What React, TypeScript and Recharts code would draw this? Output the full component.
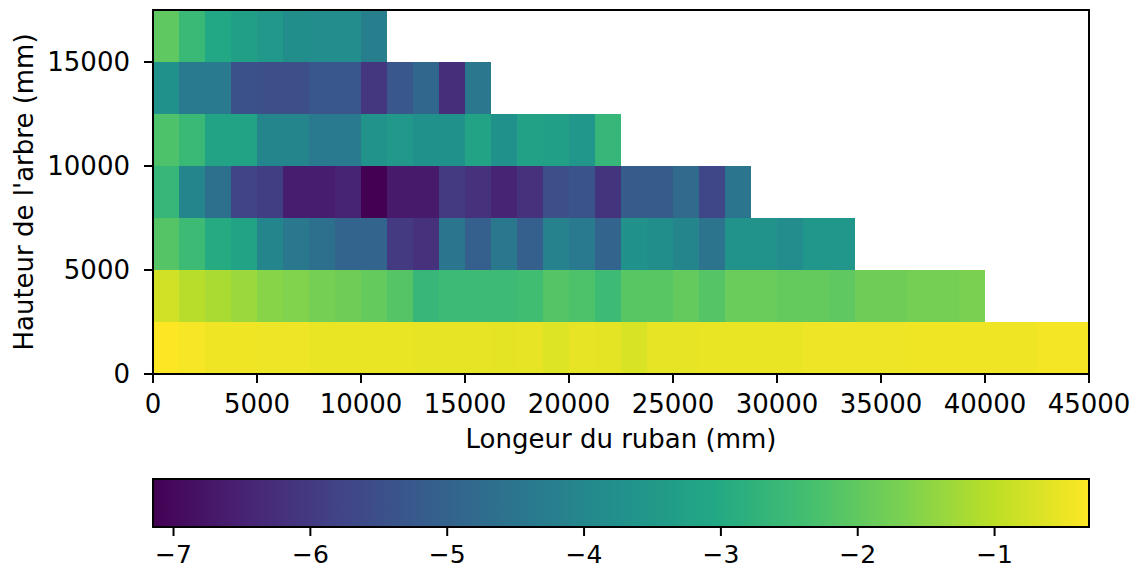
import React from 'react';
import { ComposedChart, XAxis, YAxis, ReferenceArea, Scatter, Label } from 'recharts';

const cellWidth = 1250; // width of one cell along the ribbon (mm)
const rowHeight = 2500; // height of one band of the tree (mm)
const rowBottoms = [0, 2500, 5000, 7500, 10000, 12500, 15000];

const row0 = [-0.31, -0.38, -0.45, -0.45, -0.48, -0.48, -0.52, -0.52, -0.52, -0.52, -0.55, -0.55, -0.55, -0.58, -0.55, -0.65, -0.55, -0.58, -0.69, -0.55, -0.55, -0.52, -0.52, -0.52, -0.52, -0.48, -0.48, -0.48, -0.48, -0.45, -0.45, -0.45, -0.45, -0.45, -0.41, -0.41];
const row1 = [-0.79, -1.06, -1.2, -1.34, -1.54, -1.61, -1.75, -1.82, -1.95, -2.16, -2.64, -2.5, -2.5, -2.5, -2.43, -2.16, -2.23, -2.5, -2.09, -2.09, -1.95, -2.16, -1.88, -1.88, -1.95, -1.95, -2.02, -1.82, -1.82, -1.75, -1.75, -1.68];
const row2 = [-2.16, -2.5, -2.98, -3.18, -4.07, -4.41, -4.62, -4.96, -4.96, -5.99, -6.19, -4.48, -5.1, -4.41, -5.1, -4.14, -4.35, -4.96, -3.73, -3.8, -4.07, -4.55, -3.66, -3.66, -3.87, -3.59, -3.59];
const row3 = [-2.64, -4.07, -4.62, -5.78, -5.92, -6.6, -6.6, -6.47, -7.15, -6.67, -6.67, -5.99, -6.19, -6.47, -6.19, -5.51, -5.37, -6.12, -5.17, -5.17, -4.76, -5.71, -4.48];
const row4 = [-2.23, -2.57, -3.18, -3.18, -4.07, -4.07, -4.35, -4.35, -3.66, -3.52, -3.73, -3.73, -3.18, -3.73, -3.25, -3.32, -3.59, -2.64];
const row5 = [-3.73, -4.35, -4.35, -5.44, -5.51, -5.51, -5.3, -5.3, -6.06, -5.3, -4.89, -6.26, -4.41];
const row6 = [-2.02, -2.57, -3.05, -3.32, -3.52, -3.8, -3.87, -3.87, -4.21];

const rows = [row0, row1, row2, row3, row4, row5, row6];

const xTicks = [0, 5000, 10000, 15000, 20000, 25000, 30000, 35000, 40000, 45000];
const yTicks = [0, 5000, 10000, 15000];
const colorbarTicks = [-7, -6, -5, -4, -3, -2, -1];

const xLabel = 'Longeur du ruban (mm)';
const yLabel = "Hauteur de l'arbre (mm)";

// ---- colour map ----
const VIRIDIS = ['#440154', '#482475', '#414487', '#355f8d', '#2a788e', '#21918c', '#22a884', '#44bf70', '#7ad151', '#bddf26', '#fde725'];

function hexToRgb(h: string) {
  return [parseInt(h.slice(1, 3), 16), parseInt(h.slice(3, 5), 16), parseInt(h.slice(5, 7), 16)];
}

function viridis(t: number) {
  const tt = Math.max(0, Math.min(1, t));
  const pos = tt * (VIRIDIS.length - 1);
  const i = Math.min(Math.floor(pos), VIRIDIS.length - 2);
  const f = pos - i;
  const a = hexToRgb(VIRIDIS[i]);
  const b = hexToRgb(VIRIDIS[i + 1]);
  const c = a.map((av, k) => Math.round(av + (b[k] - av) * f));
  return `rgb(${c[0]},${c[1]},${c[2]})`;
}

const allValues = rows.flat();
const vmin = Math.min(...allValues);
const vmax = Math.max(...allValues);

const cells = rows.flatMap((row, r) =>
  row.map((v, c) => ({
    x1: c * cellWidth,
    x2: (c + 1) * cellWidth,
    y1: rowBottoms[r],
    y2: rowBottoms[r] + rowHeight,
    xc: (c + 0.5) * cellWidth,
    yc: rowBottoms[r] + rowHeight / 2,
    value: v,
  }))
);

const FONT = '"DejaVu Sans", sans-serif';
const tickStyle = { fill: '#000', fontSize: 26, fontFamily: FONT };
const cbTickStyle = { fill: '#000', fontSize: 25, fontFamily: FONT };
const tickLineStyle = { stroke: '#000', strokeWidth: 2 };
const minus = (v: number) => String(v).replace('-', '\u2212');

const Empty = () => <g />;

export default function App() {
  return (
    <div style={{ position: 'absolute', left: 0, top: 0, width: 1135, height: 570, overflow: 'hidden', background: '#fff' }}>
      <style>{'.recharts-surface{overflow:visible}'}</style>
      <ComposedChart width={1135} height={460} margin={{ top: 10, right: 46, bottom: 12, left: 0 }}>
        <XAxis
          type="number"
          dataKey="xc"
          domain={[0, 45000]}
          ticks={xTicks}
          interval={0}
          allowDataOverflow
          height={74}
          tickSize={9}
          tickMargin={12}
          axisLine={false}
          tickLine={tickLineStyle}
          tick={tickStyle}
        >
          <Label value={xLabel} position="insideBottom" offset={0} style={{ fill: '#000', fontSize: 26, fontFamily: FONT }} />
        </XAxis>
        <YAxis
          type="number"
          dataKey="yc"
          domain={[0, 17500]}
          ticks={yTicks}
          interval={0}
          allowDataOverflow
          width={153}
          tickSize={9}
          tickMargin={14}
          axisLine={false}
          tickLine={tickLineStyle}
          tick={tickStyle}
        >
          <Label
            value={yLabel}
            angle={-90}
            position="insideLeft"
            offset={24}
            style={{ fill: '#000', fontSize: 26, fontFamily: FONT, textAnchor: 'middle' }}
          />
        </YAxis>
        {cells.map((c, i) => (
          <ReferenceArea
            key={i}
            x1={c.x1}
            x2={c.x2}
            y1={c.y1}
            y2={c.y2}
            fill={viridis((c.value - vmin) / (vmax - vmin))}
            fillOpacity={1}
            stroke="none"
          />
        ))}
        <Scatter data={cells} dataKey="yc" shape={Empty} isAnimationActive={false} />
        <ReferenceArea x1={0} x2={45000} y1={0} y2={17500} fill="none" fillOpacity={0} stroke="#000" strokeWidth={2} />
      </ComposedChart>

      <ComposedChart width={1135} height={110} margin={{ top: 19, right: 46, bottom: 3, left: 153 }}>
        <defs>
          <linearGradient id="viridisGrad" x1="0" y1="0" x2="1" y2="0">
            {VIRIDIS.map((col, i) => (
              <stop key={i} offset={`${(i * 100) / (VIRIDIS.length - 1)}%`} stopColor={col} />
            ))}
          </linearGradient>
        </defs>
        <XAxis
          type="number"
          dataKey="x"
          domain={[vmin, vmax]}
          ticks={colorbarTicks}
          interval={0}
          allowDataOverflow
          height={40}
          tickSize={9}
          tickMargin={9}
          axisLine={false}
          tickLine={tickLineStyle}
          tick={cbTickStyle}
          tickFormatter={minus}
        />
        <YAxis type="number" dataKey="y" domain={[0, 1]} hide allowDataOverflow />
        <Scatter data={[{ x: vmin, y: 0 }, { x: vmax, y: 1 }]} dataKey="y" shape={Empty} isAnimationActive={false} />
        <ReferenceArea x1={vmin} x2={vmax} y1={0} y2={1} fill="url(#viridisGrad)" fillOpacity={1} stroke="#000" strokeWidth={2} />
      </ComposedChart>
    </div>
  );
}
